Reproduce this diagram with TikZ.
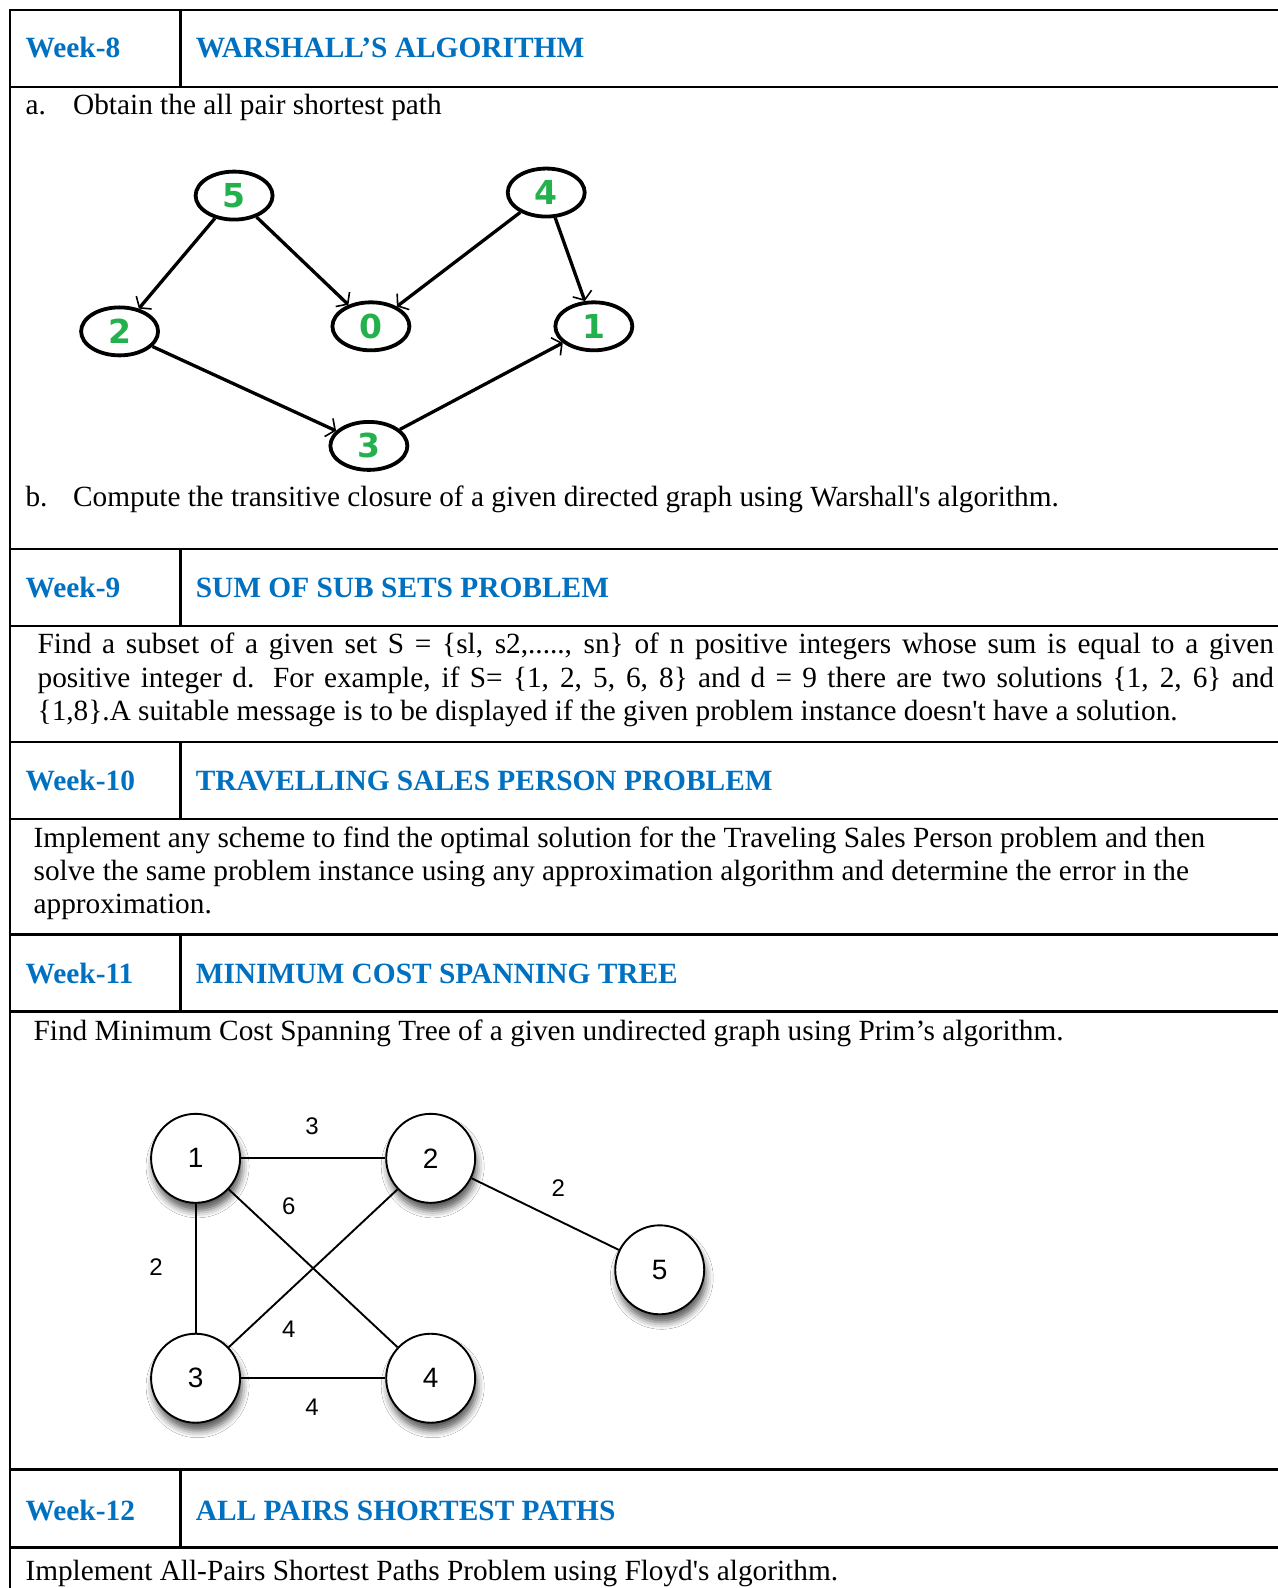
\documentclass[tikz,border=0pt]{standalone}
\usepackage{fontspec}
\setmainfont{Liberation Serif}
\newfontfamily\graphfont{DejaVu Sans}
\newfontfamily\labelfont{Liberation Sans}
\usetikzlibrary{arrows.meta,shapes.geometric,shadows.blur}
\definecolor{hdrblue}{HTML}{0070C0}
\definecolor{nodegreen}{HTML}{22B14C}
\begin{document}
\begin{tikzpicture}[x=1.0135pt,y=-1.0135pt,
  rule/.style={line width=2.3pt, line cap=rect},
  hdr/.style={anchor=base west, inner sep=0pt, text=hdrblue, font=\fontsize{29.4}{33}\selectfont\bfseries},
  body/.style={anchor=base west, inner sep=0pt, font=\fontsize{29.3}{33}\selectfont},
  wnode/.style={ellipse, draw, line width=3.8pt, minimum width=77pt, minimum height=48pt, inner sep=0pt,
    text=nodegreen, font=\fontsize{33}{33}\selectfont\graphfont\bfseries},
  warc/.style={line width=3.3pt, -{Straight Barb[length=7pt,width=20pt,line width=1.6pt]}},
  pnode/.style={circle, draw, line width=1.9pt, fill=white, minimum size=89pt, inner sep=0pt,
    font=\fontsize{28}{28}\selectfont\labelfont,
    blur shadow={shadow xshift=2pt, shadow yshift=-8pt, shadow blur radius=7pt, shadow opacity=65}},
  parc/.style={line width=1.9pt},
  plabel/.style={inner sep=0pt, font=\fontsize{24}{24}\selectfont\labelfont}
]
\useasboundingbox (0,0) rectangle (1261,1567);
\fill[white] (0,0) rectangle (1261,1567);

% table rules
\draw[rule] (10,10) -- (10,1567);
\foreach \yy in {10,86,542,618,732,808,922,998,1450,1527}
  \draw[rule] (10,\yy) -- (1261,\yy);
\foreach \ya/\yb in {10/86,542/618,732/808,922/998,1450/1527}
  \draw[rule] (178,\ya) -- (178,\yb);

% headers
\node[hdr] (h8) at (25,57) {Week-8};
\node[hdr] (t8) at (193,57) {WARSHALL’S ALGORITHM};
\node[hdr] (h9) at (25,590) {Week-9};
\node[hdr] (t9) at (193,590) {SUM OF SUB SETS PROBLEM};
\node[hdr] (h10) at (25,780) {Week-10};
\node[hdr] (t10) at (193,780) {TRAVELLING SALES PERSON PROBLEM};
\node[hdr] (h11) at (25,970) {Week-11};
\node[hdr] (t11) at (193,970) {MINIMUM COST SPANNING TREE};
\node[hdr] (h12) at (25,1500) {Week-12};
\node[hdr] (t12) at (193,1500) {ALL PAIRS SHORTEST PATHS};

% week 8 body
\node[body] (a8) at (25,113) {a.};
\node[body] (a8t) at (72,113) {Obtain the all pair shortest path};
\node[body] (b8) at (25,500) {b.};
\node[body] (b8t) at (72,500) {Compute the transitive closure of a given directed graph using Warshall\textquotesingle s algorithm.};

% week 9 body
\node[body] (p9a) at (37,645) {\makebox[1236.5pt][s]{Find a subset of a given set S = \{sl, s2,....., sn\} of n positive integers whose sum is equal to a given}};
\node[body] (p9b) at (37,678) {\makebox[1236.5pt][s]{positive integer d. For example, if S= \{1, 2, 5, 6, 8\} and d = 9 there are two solutions \{1, 2, 6\} and}};
\node[body] (p9c) at (37,711) {\{1,8\}.A suitable message is to be displayed if the given problem instance doesn\textquotesingle t have a solution.};

% week 10 body
\node[body] (p10a) at (33,836) {Implement any scheme to find the optimal solution for the Traveling Sales Person problem and then};
\node[body] (p10b) at (33,869) {solve the same problem instance using any approximation algorithm and determine the error in the};
\node[body] (p10c) at (33,901) {approximation.};

% week 11 body
\node[body] (p11) at (33,1027) {Find Minimum Cost Spanning Tree of a given undirected graph using Prim’s algorithm.};

% week 12 body
\node[body] (p12) at (25,1560) {Implement All-Pairs Shortest Paths Problem using Floyd\textquotesingle s algorithm.};

% Warshall graph
\node[wnode] (w5) at (231,193) {5};
\node[wnode] (w4) at (539,190) {4};
\node[wnode] (w2) at (118,327) {2};
\node[wnode] (w0) at (366,322) {0};
\node[wnode] (w1) at (586,322) {1};
\node[wnode] (w3) at (364,440) {3};
\draw[warc] (w5) -- (w2);
\draw[warc] (w5) -- (w0);
\draw[warc] (w4) -- (w0);
\draw[warc] (w4) -- (w1);
\draw[warc] (w2) -- (w3);
\draw[warc] (w3) -- (w1);

% Prim graph
\node[pnode] (p1) at (193,1143) {1};
\node[pnode] (p2) at (425,1143) {2};
\node[pnode] (p5) at (651,1253) {5};
\node[pnode] (p3) at (193,1360) {3};
\node[pnode] (p4) at (425,1360) {4};
\draw[parc] (p1) -- (p2);
\draw[parc] (p1) -- (p3);
\draw[parc] (p1) -- (p4);
\draw[parc] (p2) -- (p3);
\draw[parc] (p2) -- (p5);
\draw[parc] (p3) -- (p4);
\node[plabel] (l12) at (308,1111) {3};
\node[plabel] (l14) at (285,1190) {6};
\node[plabel] (l25) at (551,1172) {2};
\node[plabel] (l13) at (154,1250) {2};
\node[plabel] (l23) at (285,1312) {4};
\node[plabel] (l34) at (308,1389) {4};
\end{tikzpicture}
\end{document}
